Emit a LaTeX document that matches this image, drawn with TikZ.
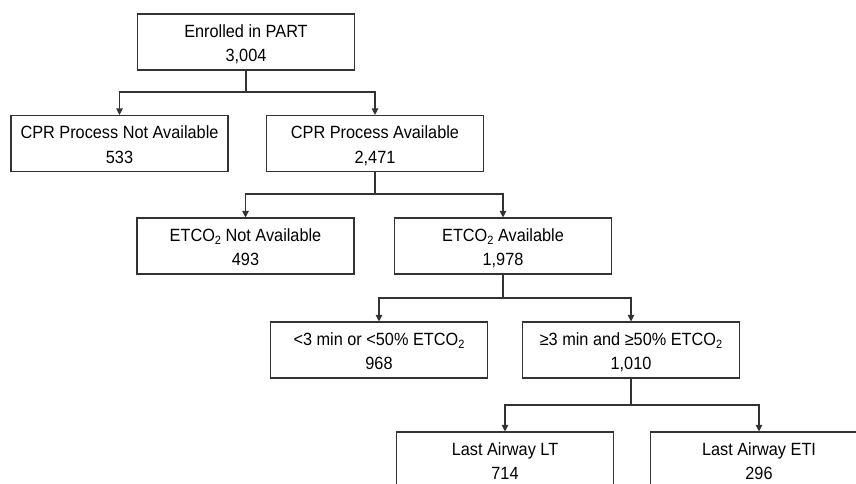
\documentclass[tikz,border=0pt]{standalone}
\usepackage{fontspec}
\setmainfont{Liberation Sans}[FakeStretch=0.92]
\usetikzlibrary{positioning,arrows.meta}
\tikzset{
  countbox/.style={rectangle,draw=black!80,line width=1.1pt,align=center,minimum width=217pt,minimum height=56pt,inner sep=0pt,text height=42.5pt,text depth=3pt,font=\fontsize{17.7}{24.5}\selectfont},
  stem/.style={line width=1.1pt,draw=black!80},
  branch/.style={-{Triangle[length=6.5pt,width=6.5pt]},line width=1.1pt,draw=black!80}
}
\newcommand{\subtwo}{\raisebox{-0.35ex}{\fontsize{12}{12}\selectfont 2}}

\begin{document}
\begin{tikzpicture}[x=1pt,y=-1pt]
  \clip (0,0) rectangle (856,483);
  % boxes, one row per split
  \node[countbox] (enrol) at (246,42) {Enrolled in PART\\3,004};
  \node[countbox] (cprno) at (119.5,143.5) {CPR Process Not Available\\533};
  \node[countbox] (cpryes) at (375,143.5) {CPR Process Available\\2,471};
  \node[countbox] (etno) at (245.5,246) {ETCO\subtwo{} Not Available\\493};
  \node[countbox] (etyes) at (503,246) {ETCO\subtwo{} Available\\1,978};
  \node[countbox] (short) at (379,350) {<3 min or <50\% ETCO\subtwo\\968};
  \node[countbox] (long) at (631,350) {≥3 min and ≥50\% ETCO\subtwo\\1,010};
  \node[countbox] (lt) at (505,460) {Last Airway LT\\714};
  \node[countbox] (eti) at (759,460) {Last Airway ETI\\296};
  % split points
  \coordinate (j1) at (246,92);
  \coordinate (j2) at (375,194);
  \coordinate (j3) at (503,298);
  \coordinate (j4) at (631,405);
  \draw[stem] (enrol) -- (j1);
  \draw[branch] (j1) -| (cprno);
  \draw[branch] (j1) -| (cpryes);
  \draw[stem] (cpryes) -- (j2);
  \draw[branch] (j2) -| (etno);
  \draw[branch] (j2) -| (etyes);
  \draw[stem] (etyes) -- (j3);
  \draw[branch] (j3) -| (short);
  \draw[branch] (j3) -| (long);
  \draw[stem] (long) -- (j4);
  \draw[branch] (j4) -| (lt);
  \draw[branch] (j4) -| (eti);
\end{tikzpicture}
\end{document}
